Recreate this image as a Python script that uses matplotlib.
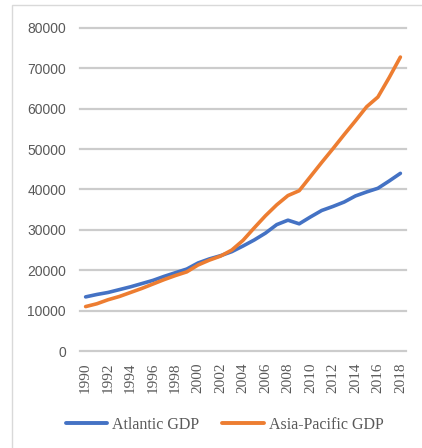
import matplotlib
matplotlib.use("Agg")
import matplotlib.pyplot as plt
from matplotlib.patches import Rectangle

years = list(range(1990, 2019))
atlantic = [13400, 14000, 14500, 15200, 15900, 16700, 17500, 18500, 19400, 20300,
            21800, 22800, 23600, 24600, 26000, 27500, 29200, 31300, 32400, 31500,
            33200, 34800, 35800, 36900, 38400, 39400, 40300, 42100, 44000]
asia_pacific = [11000, 11700, 12700, 13500, 14500, 15500, 16600, 17700, 18700, 19600,
                21300, 22500, 23500, 25000, 27400, 30500, 33500, 36200, 38500, 39700,
                43200, 46700, 50100, 53600, 57000, 60500, 62900, 67700, 72800]
series_names = ["Atlantic GDP", "Asia-Pacific GDP"]
colors = ["#4472C4", "#ED7D31"]
yticks = [0, 10000, 20000, 30000, 40000, 50000, 60000, 70000, 80000]
xtick_years = list(range(1990, 2019, 2))

W, H = 422, 448
fig = plt.figure(figsize=(W / 100, H / 100), dpi=100)
fig.patch.set_facecolor("white")

# outer chart border (only top and left visible)
fig.add_artist(Rectangle((12 / W, -0.2), 2.0, 1 - 5 / H + 0.2, transform=fig.transFigure,
                         fill=False, edgecolor="#D9D9D9", linewidth=1.0))

ax = fig.add_axes([80 / W, 1 - 351 / H, (406 - 80) / W, (351 - 28) / H])
ax.set_xlim(1989.5, 2018.5)
ax.set_ylim(0, 80000)
ax.set_yticks(yticks)
ax.set_yticklabels([str(v) for v in yticks], fontfamily="Liberation Sans", fontsize=10, color="#595959")
ax.set_xticks(xtick_years)
ax.set_xticklabels([str(y) for y in xtick_years], rotation=90, fontfamily="Liberation Serif",
                   fontsize=11, color="#595959")
ax.tick_params(axis="both", length=0)
ax.tick_params(axis="y", pad=10)
ax.tick_params(axis="x", pad=8)
for sp in ax.spines.values():
    sp.set_visible(False)

for v in yticks:
    ax.axhline(v, color="#CCCCCC", linewidth=1.6, zorder=1, clip_on=False, snap=True)

for s, c, name in zip([atlantic, asia_pacific], colors, series_names):
    ax.plot(years, s, color=c, linewidth=2.6, label=name, solid_capstyle="round", zorder=3)

leg = fig.legend(loc="center", bbox_to_anchor=(0.532, 1 - 425 / H), ncol=2, frameon=False,
                 prop={"family": "Liberation Serif", "size": 11.5}, handlelength=2.6,
                 handletextpad=0.3, columnspacing=1.45)
for t in leg.get_texts():
    t.set_color("#595959")
for l in leg.get_lines():
    l.set_linewidth(2.8)

fig.savefig("out.png", dpi=100)
